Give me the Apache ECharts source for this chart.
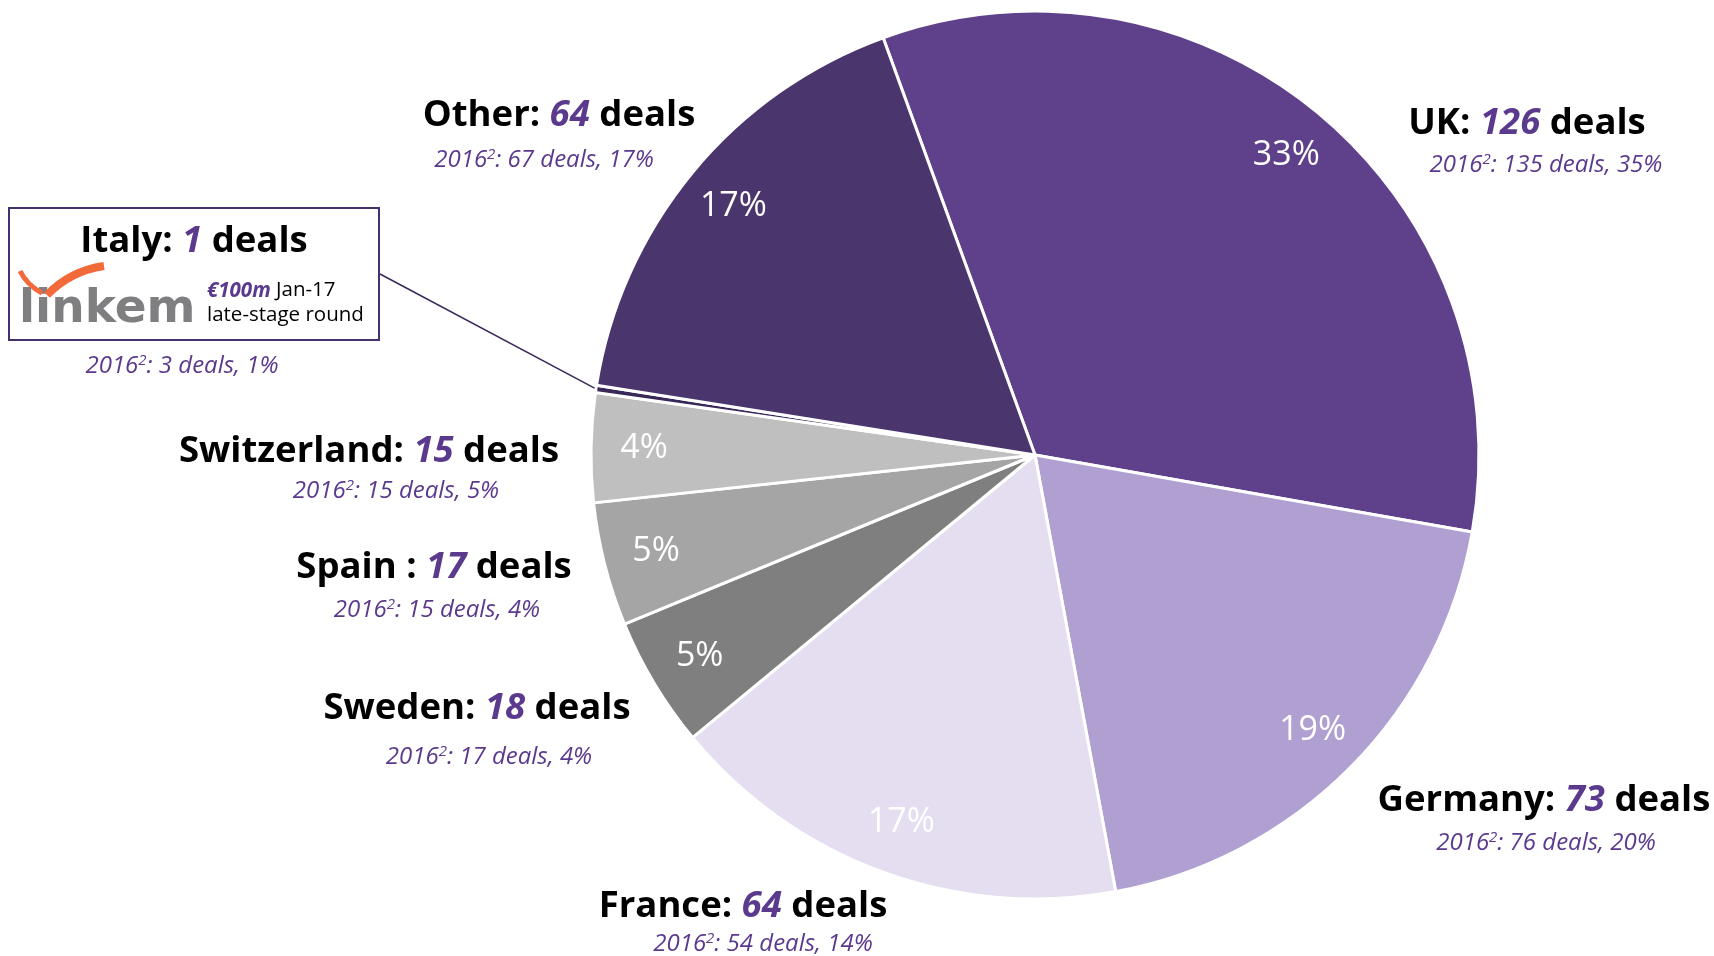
<!DOCTYPE html>
<html>
<head>
<meta charset="utf-8">
<script src="https://cdn.jsdelivr.net/npm/echarts@6/dist/echarts.min.js"></script>
<style>
  html, body { margin: 0; padding: 0; background: #fff; }
  #myChart { width: 1714px; height: 956px; }
</style>
</head>
<body>
<div id="myChart"></div>
<script>
// 2017 deals by country, with the 2016 comparison
const categories = ['UK', 'Germany', 'France', 'Sweden', 'Spain ', 'Switzerland', 'Italy', 'Other'];
const deals2017 = [126, 73, 64, 18, 17, 15, 1, 64];
const shareLabels = ['33%', '19%', '17%', '5%', '5%', '4%', '', '17%'];
const deals2016 = [135, 76, 54, 17, 15, 15, 3, 67];
const share2016 = [35, 20, 14, 4, 4, 5, 1, 17];
const italyDeal = ['€100m', 'Jan-17', 'late-stage round'];

const FONT = '"Open Sans", "Noto Sans", sans-serif';
const PURPLE = '#5B3A8E';
const sliceColors = ['#5E418A', '#B09FD1', '#E4DEF0', '#7F7F7F', '#A5A5A5', '#BFBFBF', '#3A2859', '#4A356C'];
// label placement: [x, top of title line, shift of 2016 line, height of 2016 line]
const labelPos = [
    [1527, 101, 19, 37],
    [1544, 778, 2, 38],
    [743, 884, 20, 28],
    [477, 686, 12, 50],
    [434, 545, 3, 38],
    [369, 429, 27, 33],
    [9, 208, 0, 28],
    [559, 93, -15, 42]
];
const italyIdx = categories.indexOf('Italy');

var chartDom = document.getElementById('myChart');
var myChart = echarts.init(chartDom);
var option;

const rich = {
    n: { fontFamily: FONT, fontSize: 36.5, fontWeight: 'bold', color: '#000', lineHeight: 46, align: 'center', verticalAlign: 'middle' },
    v: { fontFamily: FONT, fontSize: 36.5, fontWeight: 'bold', fontStyle: 'italic', color: PURPLE, lineHeight: 46, align: 'center', verticalAlign: 'middle' },
    s: { fontFamily: FONT, fontSize: 24, fontStyle: 'italic', color: PURPLE, lineHeight: 28, align: 'center', verticalAlign: 'middle' },
    sup: { fontFamily: FONT, fontSize: 15, fontStyle: 'italic', color: PURPLE, lineHeight: 15, padding: [0, 0, 11, 0], align: 'center', verticalAlign: 'middle' },
    sp: { width: 196, lineHeight: 36, align: 'left' },
    m: { fontFamily: FONT, fontSize: 20.5, fontWeight: 'bold', fontStyle: 'italic', color: PURPLE, lineHeight: 22, align: 'left', verticalAlign: 'bottom' },
    d: { fontFamily: FONT, fontSize: 20.5, color: '#000', lineHeight: 22, align: 'left', verticalAlign: 'bottom' },
    sp3: { width: 196, lineHeight: 28, align: 'left' },
    d3: { fontFamily: FONT, fontSize: 20.5, color: '#000', lineHeight: 28, align: 'left', verticalAlign: 'middle' }
};
labelPos.forEach(function (p, i) {
    rich['g' + i] = { width: Math.abs(p[2]) * 2, lineHeight: p[3], align: 'center', verticalAlign: 'middle' };
});

function subLine(i) {
    return '{s|2016}{sup|2}{s|: ' + deals2016[i] + ' deals, ' + share2016[i] + '%}';
}

function outerLabel(params) {
    const i = params.dataIndex;
    const title = '{n|' + categories[i] + ': }{v|' + deals2017[i] + '}{n| deals}';
    if (i === italyIdx) {
        return title + '\n{sp|}{m|' + italyDeal[0] + '}{d| ' + italyDeal[1] + '}\n{sp3|}{d3|' + italyDeal[2] + '}';
    }
    const gap = '{g' + i + '|}';
    const sub = labelPos[i][2] >= 0 ? gap + subLine(i) : subLine(i) + gap;
    return title + '\n' + sub;
}

const pieCenter = [1035, 455];
const pieRadius = 444;

const mainData = categories.map(function (c, i) {
    const item = { name: c, value: deals2017[i], itemStyle: { color: sliceColors[i] } };
    if (i === italyIdx) {
        item.label = { width: 366, height: 121, padding: [11, 2, 0, 2], borderColor: '#44306E', borderWidth: 2 };
        item.labelLine = { show: true, length: 10, length2: 0, lineStyle: { color: '#3A2859', width: 1.5 } };
    }
    return item;
});

const zrRich = {
    s: { fill: PURPLE, fontFamily: FONT, fontSize: 24, fontStyle: 'italic', lineHeight: 28, verticalAlign: 'middle' },
    sup: { fill: PURPLE, fontFamily: FONT, fontSize: 15, fontStyle: 'italic', lineHeight: 15, padding: [0, 0, 11, 0], verticalAlign: 'middle' }
};

option = {
    animation: false,
    backgroundColor: '#fff',
    graphic: [
        {
            type: 'text', x: 19, y: 310,
            style: { text: 'linkem', fontFamily: '"DejaVu Sans", sans-serif', fontSize: 47, fontWeight: 'bold', fill: '#7F7F82', verticalAlign: 'middle' }
        },
        {
            type: 'bezierCurve',
            shape: { x1: 20, y1: 271, cpx1: 27, cpy1: 285, x2: 42, y2: 293 },
            style: { stroke: '#F2693A', lineWidth: 5, fill: 'none' }
        },
        {
            type: 'bezierCurve',
            shape: { x1: 47, y1: 295, cpx1: 70, cpy1: 271, x2: 104, y2: 266 },
            style: { stroke: '#F2693A', lineWidth: 8, fill: 'none' }
        },
        {
            type: 'text', x: 182, y: 366,
            style: { text: subLine(italyIdx), rich: zrRich, align: 'center', verticalAlign: 'middle' }
        }
    ],
    series: [
        {
            type: 'pie',
            center: pieCenter,
            radius: [0, pieRadius],
            startAngle: 110,
            avoidLabelOverlap: false,
            itemStyle: { borderColor: '#fff', borderWidth: 3 },
            label: {
                show: true,
                position: 'outside',
                color: '#000',
                fontFamily: FONT,
                overflow: 'none',
                formatter: outerLabel,
                rich: rich
            },
            labelLine: { show: false },
            labelLayout: function (params) {
                const p = labelPos[params.dataIndex];
                if (params.dataIndex === italyIdx) {
                    return { x: p[0], y: p[1], align: 'left', verticalAlign: 'top' };
                }
                return { x: p[0], y: p[1], align: 'center', verticalAlign: 'top' };
            },
            emphasis: { disabled: true },
            data: mainData
        },
        {
            // percentage labels near the rim
            type: 'pie',
            silent: true,
            center: pieCenter,
            radius: [332, pieRadius],
            startAngle: 110,
            avoidLabelOverlap: false,
            itemStyle: { color: 'rgba(0,0,0,0)', borderWidth: 0 },
            label: {
                show: true,
                position: 'inside',
                color: '#fff',
                textBorderWidth: 0,
                fontFamily: FONT,
                fontSize: 34,
                formatter: function (p) { return shareLabels[p.dataIndex]; }
            },
            labelLine: { show: false },
            emphasis: { disabled: true },
            data: categories.map(function (c, i) { return { name: c, value: deals2017[i] }; })
        }
    ]
};

option && myChart.setOption(option);
</script>
</body>
</html>
